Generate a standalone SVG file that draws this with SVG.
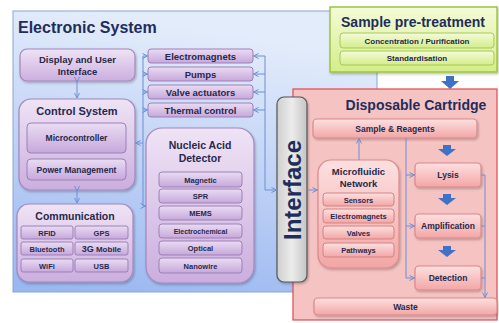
<svg xmlns="http://www.w3.org/2000/svg" width="499" height="323" viewBox="0 0 499 323">
<defs>
<linearGradient id="gBlue" x1="0.2" y1="0" x2="0" y2="1"><stop offset="0" stop-color="#e3ecfb"/><stop offset="1" stop-color="#98b6f0"/></linearGradient>
<linearGradient id="gPurple" x1="0" y1="0" x2="0" y2="1"><stop offset="0" stop-color="#efe3f5"/><stop offset="1" stop-color="#cbaede"/></linearGradient>
<linearGradient id="gPurpleItem" x1="0" y1="0" x2="0" y2="1"><stop offset="0" stop-color="#eadcf3"/><stop offset="1" stop-color="#c6a8db"/></linearGradient>
<linearGradient id="gPink" x1="0" y1="0" x2="0" y2="1"><stop offset="0" stop-color="#fde0e0"/><stop offset="1" stop-color="#f3a6a6"/></linearGradient>
<linearGradient id="gGreen" x1="0" y1="0" x2="0" y2="1"><stop offset="0" stop-color="#f4fbd9"/><stop offset="1" stop-color="#d4ed8a"/></linearGradient>
<linearGradient id="gGray" x1="0" y1="0" x2="1" y2="0"><stop offset="0" stop-color="#cfcfcf"/><stop offset="0.5" stop-color="#ececec"/><stop offset="1" stop-color="#c4c4c4"/></linearGradient>
<marker id="ah" viewBox="0 0 6 6" refX="5.5" refY="3" markerWidth="6" markerHeight="6" orient="auto" markerUnits="userSpaceOnUse"><path d="M0.5,0.5 L5.5,3 L0.5,5.5" fill="none" stroke="#6d8fd3" stroke-width="1"/></marker>
<filter id="sh" x="-10%" y="-10%" width="130%" height="130%"><feDropShadow dx="1" dy="1.5" stdDeviation="1" flood-color="#000" flood-opacity="0.25"/></filter>
</defs>
<style>
.panelB{fill:url(#gBlue);stroke:#8aa5d6;stroke-width:1}
.pbox{fill:url(#gPurple);stroke:#a287bd;stroke-width:1.2;filter:url(#sh)}
.pitem{fill:url(#gPurpleItem);stroke:#9d80b8;stroke-width:1}
.kbox{fill:url(#gPink);stroke:#d98a8a;stroke-width:1.2;filter:url(#sh)}
.kitem{fill:url(#gPink);stroke:#d08484;stroke-width:1}
.gitem{fill:url(#gGreen);stroke:#a6c957;stroke-width:1}
.title{font-family:"Liberation Sans",Arial,sans-serif;font-weight:bold;fill:#1f2d5a}
.t{font-family:"Liberation Sans",Arial,sans-serif;font-weight:bold;fill:#28284a;text-anchor:middle}
.con{fill:none;stroke:#6d8fd3;stroke-width:1}
.blk{fill:#3f72c6}
</style>

<g id="electronic-system">
<rect class="panelB" x="13" y="11" width="364" height="281"/>
<text class="title" x="18" y="33" font-size="16">Electronic System</text>
</g>

<g id="sample-pretreatment">
<rect x="330" y="7" width="167" height="65" fill="url(#gGreen)" stroke="#9cc63e" stroke-width="1.5" filter="url(#sh)"/>
<text class="title" x="413" y="27" font-size="14" text-anchor="middle">Sample pre-treatment</text>
<rect class="gitem" x="340" y="33" width="154" height="15" rx="3"/>
<text class="t" x="417" y="43.5" font-size="8">Concentration / Purification</text>
<rect class="gitem" x="340" y="51" width="154" height="14" rx="3"/>
<text class="t" x="417" y="61" font-size="8">Standardisation</text>
</g>

<g id="disposable-cartridge">
<rect x="293" y="89" width="204" height="231" fill="#f6c3c3" stroke="#e24a4a" stroke-width="1.2"/>
<text class="title" x="416" y="110" font-size="14" text-anchor="middle">Disposable Cartridge</text>
</g>

<g id="display">
<rect class="pbox" x="20" y="49" width="115" height="32" rx="7"/>
<text class="t" x="77.5" y="63" font-size="9.5">Display and User</text>
<text class="t" x="77.5" y="75" font-size="9.5">Interface</text>
</g>

<g id="control-system">
<rect class="pbox" x="19" y="99" width="116" height="91" rx="12"/>
<text class="t" x="77" y="115" font-size="11">Control System</text>
<rect class="pitem" x="27" y="123" width="99" height="30" rx="4"/>
<text class="t" x="76.5" y="141" font-size="8.5">Microcontroller</text>
<rect class="pitem" x="27" y="159" width="99" height="21" rx="4"/>
<text class="t" x="76.5" y="172.5" font-size="8.5">Power Management</text>
</g>

<g id="communication">
<rect class="pbox" x="17" y="204" width="116" height="78" rx="12"/>
<text class="t" x="75" y="220" font-size="10.5">Communication</text>
<rect class="pitem" x="21" y="226" width="52" height="13" rx="2"/>
<text class="t" x="47" y="235.5" font-size="7.5">RFID</text>
<rect class="pitem" x="75" y="226" width="53" height="13" rx="2"/>
<text class="t" x="101.5" y="235.5" font-size="7.5">GPS</text>
<rect class="pitem" x="21" y="242" width="52" height="13" rx="2"/>
<text class="t" x="47" y="251.5" font-size="7.5">Bluetooth</text>
<rect class="pitem" x="75" y="242" width="53" height="13" rx="2"/>
<text class="t" x="101.5" y="251.5" font-size="8"><tspan font-size="9">3G</tspan> Mobile</text>
<rect class="pitem" x="21" y="259" width="52" height="13" rx="2"/>
<text class="t" x="47" y="268.5" font-size="7.5">WiFi</text>
<rect class="pitem" x="75" y="259" width="53" height="13" rx="2"/>
<text class="t" x="101.5" y="268.5" font-size="7.5">USB</text>
</g>

<g id="electromagnets">
<rect class="pitem" x="148" y="49" width="105" height="14" rx="3"/>
<text class="t" x="200.5" y="59.5" font-size="9.5">Electromagnets</text>
</g>
<g id="pumps">
<rect class="pitem" x="148" y="67" width="105" height="14" rx="3"/>
<text class="t" x="200.5" y="77.5" font-size="9.5">Pumps</text>
</g>
<g id="valve-actuators">
<rect class="pitem" x="148" y="85" width="105" height="14" rx="3"/>
<text class="t" x="200.5" y="95.5" font-size="9.5">Valve actuators</text>
</g>
<g id="thermal-control">
<rect class="pitem" x="148" y="103" width="105" height="14" rx="3"/>
<text class="t" x="200.5" y="113.5" font-size="9.5">Thermal control</text>
</g>

<g id="nucleic-acid-detector">
<rect class="pbox" x="146" y="128" width="108" height="155" rx="16"/>
<text class="t" x="200" y="149" font-size="10.5">Nucleic Acid</text>
<text class="t" x="200" y="162" font-size="10.5">Detector</text>
<rect class="pitem" x="159" y="172" width="83" height="15" rx="3"/>
<text class="t" x="200.5" y="182.5" font-size="7.5">Magnetic</text>
<rect class="pitem" x="159" y="189" width="83" height="14" rx="3"/>
<text class="t" x="200.5" y="199" font-size="7.5">SPR</text>
<rect class="pitem" x="159" y="206" width="83" height="14" rx="3"/>
<text class="t" x="200.5" y="216" font-size="7.5">MEMS</text>
<rect class="pitem" x="159" y="224" width="83" height="14" rx="3"/>
<text class="t" x="200.5" y="234" font-size="7">Electrochemical</text>
<rect class="pitem" x="159" y="241" width="83" height="14" rx="3"/>
<text class="t" x="200.5" y="251" font-size="7.5">Optical</text>
<rect class="pitem" x="159" y="258" width="83" height="15" rx="3"/>
<text class="t" x="200.5" y="268.5" font-size="7.5">Nanowire</text>
</g>

<g id="interface">
<rect x="277" y="97" width="30" height="185" rx="7" fill="url(#gGray)" stroke="#555" stroke-width="1.2" filter="url(#sh)"/>
<text class="title" x="0" y="0" font-size="24" text-anchor="middle" transform="translate(300.5,190) rotate(-90)">Interface</text>
</g>

<g id="sample-reagents">
<rect class="kbox" x="313" y="119" width="164" height="19" rx="4"/>
<text class="t" x="395" y="131.5" font-size="8.5">Sample &amp; Reagents</text>
</g>

<g id="microfluidic-network">
<rect class="kbox" x="318" y="160" width="81" height="108" rx="13"/>
<text class="t" x="358.5" y="175" font-size="9.5">Microfluidic</text>
<text class="t" x="358.5" y="187" font-size="9.5">Network</text>
<rect class="kitem" x="323" y="193" width="71" height="13" rx="3"/>
<text class="t" x="358.5" y="202.5" font-size="7.5">Sensors</text>
<rect class="kitem" x="323" y="209" width="71" height="14" rx="3"/>
<text class="t" x="358.5" y="219" font-size="7.5">Electromagnets</text>
<rect class="kitem" x="323" y="226" width="71" height="13" rx="3"/>
<text class="t" x="358.5" y="235.5" font-size="7.5">Valves</text>
<rect class="kitem" x="323" y="243" width="71" height="14" rx="3"/>
<text class="t" x="358.5" y="253" font-size="7.5">Pathways</text>
</g>

<g id="lysis">
<rect class="kbox" x="415" y="163" width="66" height="24" rx="4"/>
<text class="t" x="448" y="178" font-size="8.5">Lysis</text>
</g>
<g id="amplification">
<rect class="kbox" x="415" y="214" width="66" height="24" rx="4"/>
<text class="t" x="448" y="229" font-size="8.5">Amplification</text>
</g>
<g id="detection">
<rect class="kbox" x="415" y="266" width="66" height="24" rx="4"/>
<text class="t" x="448" y="281" font-size="8.5">Detection</text>
</g>
<g id="waste">
<rect class="kbox" x="314" y="298" width="183" height="17" rx="4"/>
<text class="t" x="405.5" y="309.5" font-size="8.5">Waste</text>
</g>

<g id="connectors">
<path class="con" d="M77,82 V98" marker-start="url(#ah)" marker-end="url(#ah)"/>
<path class="con" d="M77,191 V203" marker-start="url(#ah)" marker-end="url(#ah)"/>
<path class="con" d="M143,56 V206"/>
<path class="con" d="M143,56 H147.5" marker-end="url(#ah)"/>
<path class="con" d="M143,74 H147.5" marker-end="url(#ah)"/>
<path class="con" d="M143,92 H147.5" marker-end="url(#ah)"/>
<path class="con" d="M143,110 H147.5" marker-end="url(#ah)"/>
<path class="con" d="M143,143 H135.5" marker-end="url(#ah)"/>
<path class="con" d="M143,206 H145.5" marker-end="url(#ah)"/>
<path class="con" d="M265,56 V190 H276.5" marker-end="url(#ah)"/>
<path class="con" d="M265,56 H253.5" marker-end="url(#ah)"/>
<path class="con" d="M265,74 H253.5" marker-end="url(#ah)"/>
<path class="con" d="M265,92 H253.5" marker-end="url(#ah)"/>
<path class="con" d="M265,110 H253.5" marker-end="url(#ah)"/>
<path class="con" d="M307,190 H317.5" marker-end="url(#ah)"/>
<path class="con" d="M359,160 V138.5" marker-end="url(#ah)"/>
<path class="con" d="M406,138 V278 H414.5" marker-end="url(#ah)"/>
<path class="con" d="M406,175 H414.5" marker-end="url(#ah)"/>
<path class="con" d="M406,226 H414.5" marker-end="url(#ah)"/>
<path class="con" d="M481,175 H485 V297.5" marker-end="url(#ah)"/>
<path class="con" d="M481,226 H485"/>
<path class="con" d="M481,278 H485"/>
<path class="blk" d="M446,76 h8 v5 h5 l-9,8 l-9,-8 h5 z"/>
<path class="blk" d="M443,145 h8 v4 h5 l-9,7 l-9,-7 h5 z"/>
<path class="blk" d="M443,194 h8 v4 h5 l-9,7 l-9,-7 h5 z"/>
<path class="blk" d="M443,246 h8 v4 h5 l-9,7 l-9,-7 h5 z"/>
</g>
</svg>
